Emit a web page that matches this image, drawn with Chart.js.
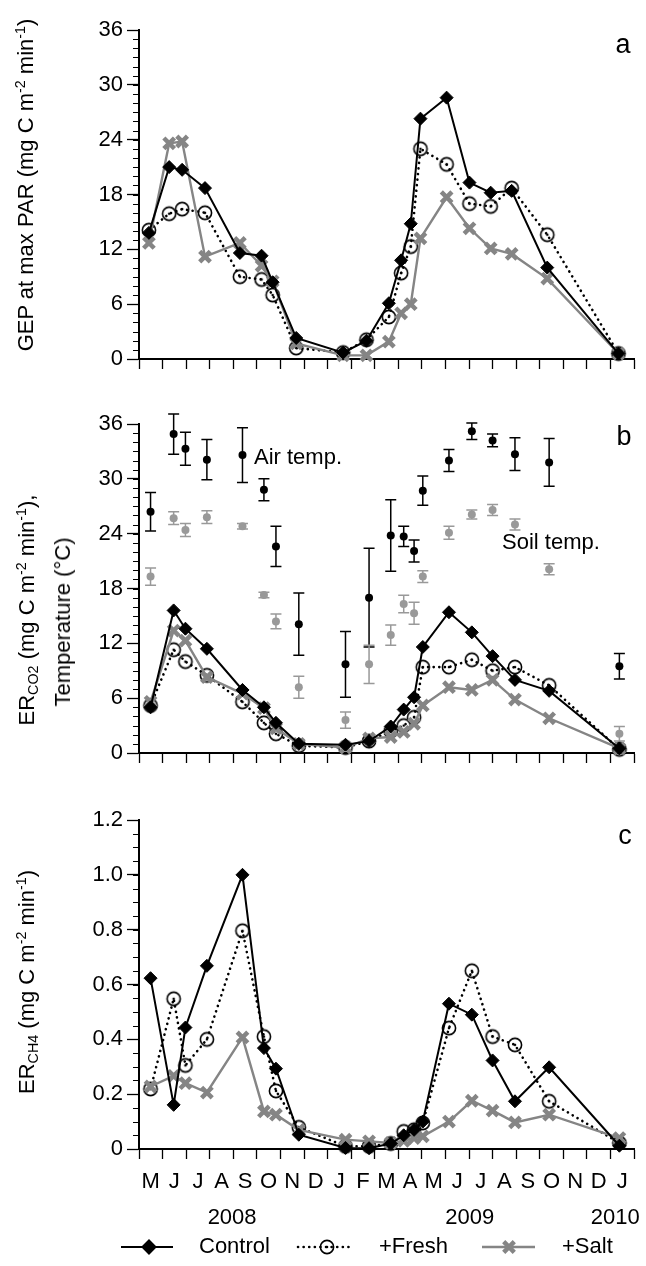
<!DOCTYPE html>
<html>
<head>
<meta charset="utf-8">
<script src="https://cdn.jsdelivr.net/npm/chart.js@4.4.0/dist/chart.umd.min.js"></script>
<style>
  body { margin: 0; background: #fff; width: 646px; height: 1266px; position: relative; overflow: hidden;
         font-family: "Liberation Sans", Arial, sans-serif; }
  canvas { position: absolute; left: 0; }
  .ytitle { position: absolute; white-space: nowrap; font-size: 22px; line-height: 1; color: #000;
            transform: translate(-50%, -50%) rotate(-90deg); }
  .ytitle sup, .ytitle sub { font-size: 0.65em; position: relative; vertical-align: baseline; }
  .ytitle sup { top: -0.55em; }
  .ytitle sub { top: 0.3em; }
</style>
</head>
<body>
<canvas id="gepChart" width="646" height="380" style="top:0"></canvas>
<canvas id="erChart" width="646" height="384" style="top:390px"></canvas>
<canvas id="ch4Chart" width="646" height="486" style="top:780px"></canvas>

<div class="ytitle" style="left:26px; top:185px">GEP at max PAR (mg C m<sup>-2</sup> min<sup>-1</sup>)</div>
<div class="ytitle" style="left:27px; top:610px">ER<sub>CO2</sub> (mg C m<sup>-2</sup> min<sup>-1</sup>),</div>
<div class="ytitle" style="left:63px; top:622px">Temperature (°C)</div>
<div class="ytitle" style="left:27px; top:982px">ER<sub>CH4</sub> (mg C m<sup>-2</sup> min<sup>-1</sup>)</div>

<script>
const FONT = '"Liberation Sans", Arial, sans-serif';
const GREY = '#858585';

// x axis: months counted from 1 May 2008
const monthLabels = ['M', 'J', 'J', 'A', 'S', 'O', 'N', 'D', 'J', 'F', 'M', 'A', 'M', 'J', 'J', 'A', 'S', 'O', 'N', 'D', 'J'];
const yearLabels = ['2008', '2009', '2010'];
const yearAt = [3.95, 14.03, 20.2];

// sampling dates
const gepMonths = [0.42, 1.28, 1.83, 2.8, 4.28, 5.2, 5.67, 6.67, 8.66, 9.65, 10.6, 11.12, 11.53, 11.94, 13.05, 14.02, 14.92, 15.81, 17.32, 20.34];
const erMonths = [0.49, 1.47, 1.97, 2.88, 4.39, 5.3, 5.81, 6.78, 8.76, 9.76, 10.68, 11.23, 11.67, 12.04, 13.15, 14.12, 15.0, 15.95, 17.4, 20.38];

// a: GEP at max PAR
const gepControl = [13.8, 21.0, 20.7, 18.7, 11.6, 11.3, 8.4, 2.3, 0.7, 2.0, 6.1, 10.8, 14.8, 26.3, 28.6, 19.3, 18.2, 18.4, 10.0, 0.6];
const gepFresh = [14.1, 15.9, 16.4, 16.0, 9.0, 8.7, 7.0, 1.2, 0.7, 2.1, 4.6, 9.4, 12.3, 23.0, 21.3, 17.0, 16.7, 18.7, 13.6, 0.6];
const gepSalt = [12.7, 23.6, 23.8, 11.2, 12.7, 10.2, 8.5, 1.7, 0.4, 0.4, 1.9, 5.0, 6.0, 13.2, 17.7, 14.3, 12.1, 11.5, 8.8, 0.6];

// b: ER CO2 and temperatures
const erControl = [5.0, 15.6, 13.6, 11.4, 6.9, 5.0, 3.3, 1.0, 0.9, 1.3, 2.9, 4.75, 6.1, 11.6, 15.4, 13.2, 10.6, 8.0, 6.8, 0.5];
const erFresh = [5.2, 11.3, 10.0, 8.5, 5.6, 3.3, 2.1, 0.8, 0.6, 1.3, 2.4, 3.0, 3.9, 9.4, 9.4, 10.2, 9.0, 9.4, 7.4, 0.4];
const erSalt = [5.6, 13.4, 12.3, 8.3, 6.5, 4.9, 2.7, 1.0, 0.6, 1.6, 1.75, 2.3, 3.2, 5.2, 7.2, 6.9, 8.0, 5.85, 3.8, 0.5];
const airTemp = [26.4, 34.9, 33.3, 32.1, 32.6, 28.8, 22.6, 14.1, 9.7, 17.0, 23.8, 23.7, 22.1, 28.7, 32.0, 35.2, 34.2, 32.7, 31.8, 9.5];
const airErr = [2.1, 2.2, 1.8, 2.2, 3.0, 1.2, 2.2, 3.4, 3.6, 5.4, 3.9, 1.1, 1.2, 1.6, 1.2, 0.9, 0.7, 1.8, 2.6, 1.4];
const soilTemp = [19.3, 25.7, 24.4, 25.8, 24.8, 17.3, 14.4, 7.2, 3.6, 9.7, 12.9, 16.3, 15.3, 19.3, 24.1, 26.1, 26.6, 25.0, 20.1, 2.1];
const soilErr = [0.95, 0.7, 0.7, 0.7, 0.3, 0.3, 0.8, 1.2, 0.9, 2.1, 1.1, 0.95, 1.2, 0.65, 0.7, 0.5, 0.6, 0.6, 0.6, 0.8];

// c: ER CH4
const ch4Control = [0.623, 0.161, 0.443, 0.668, 1.0, 0.368, 0.293, 0.052, 0.004, 0.003, 0.02, 0.05, 0.07, 0.10, 0.53, 0.49, 0.323, 0.174, 0.298, 0.012];
const ch4Fresh = [0.219, 0.548, 0.305, 0.40, 0.796, 0.41, 0.212, 0.079, 0.01, 0.01, 0.02, 0.064, 0.07, 0.095, 0.441, 0.65, 0.41, 0.38, 0.174, 0.022];
const ch4Salt = [0.228, 0.267, 0.24, 0.206, 0.407, 0.137, 0.125, 0.07, 0.034, 0.028, 0.022, 0.03, 0.04, 0.046, 0.10, 0.176, 0.14, 0.097, 0.125, 0.04];

function pts(xs, ys) {
    return ys.map((y, i) => ({ x: xs[i], y: y }));
}

// open circle with a dot in the middle
const freshMarker = document.createElement('canvas');
freshMarker.width = 18;
freshMarker.height = 18;
(function () {
    const c = freshMarker.getContext('2d');
    c.strokeStyle = '#000';
    c.lineWidth = 1.6;
    c.beginPath();
    c.arc(9, 9, 6.6, 0, Math.PI * 2);
    c.stroke();
    c.fillStyle = '#000';
    c.beginPath();
    c.arc(9, 9, 1.3, 0, Math.PI * 2);
    c.fill();
})();

const controlStyle = { pointStyle: 'rectRot', radius: 6.5, borderWidth: 1, rotation: 0 };
const saltStyle = { pointStyle: 'crossRot', radius: 7.5, borderWidth: 4.5, rotation: 0 };

function controlSet(xs, ys) {
    return { label: 'Control', data: pts(xs, ys), borderColor: '#000', backgroundColor: '#000', borderWidth: 2,
             pointStyle: 'rectRot', pointRadius: 6.5, pointBorderWidth: 1, clip: false, order: 1 };
}
function freshSet(xs, ys) {
    return { label: '+Fresh', data: pts(xs, ys), borderColor: '#000', backgroundColor: '#000', borderWidth: 2.6,
             borderDash: [0.1, 5.5], borderCapStyle: 'round', pointStyle: freshMarker, pointRadius: 7,
             clip: false, order: 3 };
}
function saltSet(xs, ys) {
    return { label: '+Salt', data: pts(xs, ys), borderColor: GREY, backgroundColor: GREY, borderWidth: 2.4,
             pointStyle: 'crossRot', pointRadius: 7.5, pointBorderWidth: 4.5, clip: false, order: 2 };
}

function panelOptions(yMax, yStep, xHeight, padTop, fmt) {
    return {
        responsive: false,
        animation: false,
        events: [],
        layout: { padding: { top: padTop, right: 7, left: 0, bottom: 0 } },
        plugins: { legend: { display: false }, tooltip: { enabled: false } },
        scales: {
            x: {
                type: 'linear', min: 0, max: 21,
                afterFit: s => { s.height = xHeight; },
                ticks: { stepSize: 1, autoSkip: false, callback: () => '' },
                grid: { drawOnChartArea: false, tickLength: 10, tickColor: '#000', tickWidth: 1.3 },
                border: { color: '#000', width: 2 }
            },
            y: {
                min: 0, max: yMax,
                afterFit: s => { s.width = 139; },
                ticks: { stepSize: yStep, color: '#000', padding: 4, font: { family: FONT, size: 22 }, callback: fmt },
                grid: { drawOnChartArea: false, tickLength: 12, tickColor: '#000', tickWidth: 1.3 },
                border: { color: '#000', width: 2 }
            }
        }
    };
}

// short ticks between the labelled ones, plus panel text
function decor(minorStep, letter, extra) {
    return {
        id: 'decor',
        afterDraw(chart) {
            const ctx = chart.ctx;
            const y = chart.scales.y;
            const left = chart.chartArea.left;
            ctx.save();
            ctx.strokeStyle = '#000';
            ctx.lineWidth = 1;
            for (let v = 0; v <= y.max + 1e-9; v += minorStep) {
                const py = Math.round(y.getPixelForValue(v)) + 0.5;
                ctx.beginPath();
                ctx.moveTo(left - 6, py);
                ctx.lineTo(left, py);
                ctx.stroke();
            }
            ctx.fillStyle = '#000';
            ctx.font = '27px ' + FONT;
            ctx.textAlign = 'center';
            ctx.textBaseline = 'middle';
            ctx.fillText(letter.t, letter.x, letter.y);
            if (extra) extra(chart, ctx);
            ctx.restore();
        }
    };
}

function errorBars(sets) {
    return {
        id: 'errorBars',
        beforeDatasetsDraw(chart) {
            const ctx = chart.ctx;
            const xs = chart.scales.x, ys = chart.scales.y;
            ctx.save();
            sets.forEach(s => {
                ctx.strokeStyle = s.color;
                ctx.lineWidth = 1.5;
                s.values.forEach((v, i) => {
                    const px = xs.getPixelForValue(s.months[i]);
                    const top = ys.getPixelForValue(v + s.err[i]);
                    const bot = ys.getPixelForValue(v - s.err[i]);
                    ctx.beginPath();
                    ctx.moveTo(px, top); ctx.lineTo(px, bot);
                    ctx.moveTo(px - 5.5, top); ctx.lineTo(px + 5.5, top);
                    ctx.moveTo(px - 5.5, bot); ctx.lineTo(px + 5.5, bot);
                    ctx.stroke();
                });
            });
            ctx.restore();
        }
    };
}

new Chart(document.getElementById('gepChart'), {
    type: 'line',
    data: { datasets: [controlSet(gepMonths, gepControl), freshSet(gepMonths, gepFresh), saltSet(gepMonths, gepSalt)] },
    options: panelOptions(36, 6, 21, 30, v => v),
    plugins: [decor(1, { t: 'a', x: 623, y: 46 })]
});

new Chart(document.getElementById('erChart'), {
    type: 'line',
    data: {
        datasets: [
            controlSet(erMonths, erControl), freshSet(erMonths, erFresh), saltSet(erMonths, erSalt),
            { label: 'Air temp.', data: pts(erMonths, airTemp), showLine: false, pointStyle: 'circle', pointRadius: 4,
              backgroundColor: '#000', borderColor: '#000', pointBorderWidth: 0, clip: false, order: 5 },
            { label: 'Soil temp.', data: pts(erMonths, soilTemp), showLine: false, pointStyle: 'circle', pointRadius: 4,
              backgroundColor: '#999', borderColor: '#999', pointBorderWidth: 0, clip: false, order: 6 }
        ]
    },
    options: panelOptions(36, 6, 21, 34, v => v),
    plugins: [
        errorBars([
            { values: airTemp, err: airErr, months: erMonths, color: '#000' },
            { values: soilTemp, err: soilErr, months: erMonths, color: '#999' }
        ]),
        decor(1, { t: 'b', x: 624, y: 48 }, (chart, ctx) => {
            ctx.font = '22px ' + FONT;
            ctx.textAlign = 'left';
            ctx.fillText('Air temp.', 254, 68);
            ctx.fillText('Soil temp.', 502, 153);
        })
    ]
});

new Chart(document.getElementById('ch4Chart'), {
    type: 'line',
    data: { datasets: [controlSet(erMonths, ch4Control), freshSet(erMonths, ch4Fresh), saltSet(erMonths, ch4Salt)] },
    options: panelOptions(1.2, 0.2, 117, 40, v => (Math.abs(v) < 1e-9 ? '0' : v.toFixed(1))),
    plugins: [decor(0.05, { t: 'c', x: 625, y: 57 }, (chart, ctx) => {
        const xs = chart.scales.x;
        ctx.font = '22px ' + FONT;
        ctx.textAlign = 'center';
        monthLabels.forEach((m, i) => ctx.fillText(m, xs.getPixelForValue(i + 0.5), 402));
        yearLabels.forEach((yr, i) => ctx.fillText(yr, xs.getPixelForValue(yearAt[i]), 438));

        // legend
        const ly = 467;
        ctx.lineWidth = 2;
        ctx.strokeStyle = '#000';
        ctx.beginPath(); ctx.moveTo(121, ly); ctx.lineTo(173, ly); ctx.stroke();
        ctx.fillStyle = '#000';
        Chart.helpers.drawPoint(ctx, controlStyle, 149, ly);

        ctx.save();
        ctx.lineWidth = 2.6;
        ctx.lineCap = 'round';
        ctx.setLineDash([0.1, 5.5]);
        ctx.beginPath(); ctx.moveTo(298, ly); ctx.lineTo(354, ly); ctx.stroke();
        ctx.restore();
        Chart.helpers.drawPoint(ctx, { pointStyle: freshMarker, radius: 7, rotation: 0 }, 327, ly);

        ctx.strokeStyle = GREY;
        ctx.lineWidth = 2.4;
        ctx.beginPath(); ctx.moveTo(482, ly); ctx.lineTo(535, ly); ctx.stroke();
        ctx.lineWidth = 4.5;
        Chart.helpers.drawPoint(ctx, saltStyle, 509, ly);

        ctx.fillStyle = '#000';
        ctx.textAlign = 'left';
        ctx.fillText('Control', 199, ly);
        ctx.fillText('+Fresh', 379, ly);
        ctx.fillText('+Salt', 562, ly);
    })]
});
</script>
</body>
</html>
